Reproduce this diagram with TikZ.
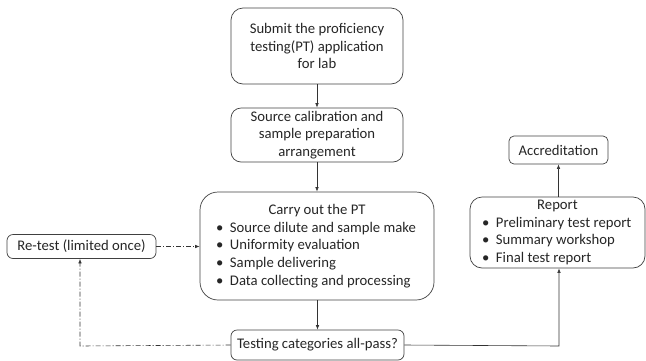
\documentclass[tikz,border=0pt]{standalone}
\usepackage{fontspec}
\setmainfont{Carlito}
\usetikzlibrary{arrows.meta}
\tikzset{
  box/.style={draw=black!75, line width=0.7pt, rounded corners=#1, inner sep=0pt, align=center,
    font=\fontsize{14.7}{17.6}\selectfont, text=black!85},
  box/.default=8pt,
  conn/.style={draw=black!80, line width=0.6pt, -{Latex[length=4.5pt,width=3.5pt]}},
  dconn/.style={conn, dash pattern=on 5pt off 2pt on 1pt off 2pt},
}
\newcommand{\blt}{\makebox[14pt][l]{\textbullet}}
\begin{document}
\begin{tikzpicture}[x=1pt,y=-1pt]
\useasboundingbox (0,0) rectangle (646,360);
\node[box=12pt, minimum width=172pt, minimum height=76pt] (submit) at (317,46)
  {Submit the proficiency\\testing(PT) application\\for lab};
\node[box=10pt, minimum width=172pt, minimum height=54pt] (source) at (317,135)
  {Source calibration and\\sample preparation\\arrangement};
\node[box=18pt, minimum width=234pt, minimum height=108pt] (carry) at (317,246)
  {\parbox{202pt}{\centering Carry out the PT\par\raggedright
   \blt Source dilute and sample make\par
   \blt Uniformity evaluation\par
   \blt Sample delivering\par
   \blt Data collecting and processing}};
\node[box=6pt, minimum width=173pt, minimum height=30pt] (testing) at (317.5,345)
  {Testing categories all-pass?};
\node[box=6pt, minimum width=149pt, minimum height=24pt] (retest) at (81.5,246.5)
  {Re-test (limited once)};
\node[box=12pt, minimum width=175pt, minimum height=71pt] (report) at (557.5,232.5)
  {\parbox{151pt}{\centering Report\par\raggedright
   \blt Preliminary test report\par
   \blt Summary workshop\par
   \blt Final test report}};
\node[box=5pt, minimum width=99pt, minimum height=28pt] (accr) at (558.5,150)
  {Accreditation};
\coordinate (lc) at (80,346);
\coordinate (rc) at (559,346);
\draw[conn] (submit) -- (source);
\draw[conn] (source) -- (carry);
\draw[conn] (carry.south -| testing.north) -- (testing.north);
\draw[dconn] (retest.east) -- (retest.east -| carry.west);
\draw[dconn] (testing.west) -- (lc) -- (lc |- retest.south);
\draw[conn] (testing.east) -- (rc) -- (rc |- report.south);
\draw[conn] (report.north -| accr.south) -- (accr.south);
\end{tikzpicture}
\end{document}
